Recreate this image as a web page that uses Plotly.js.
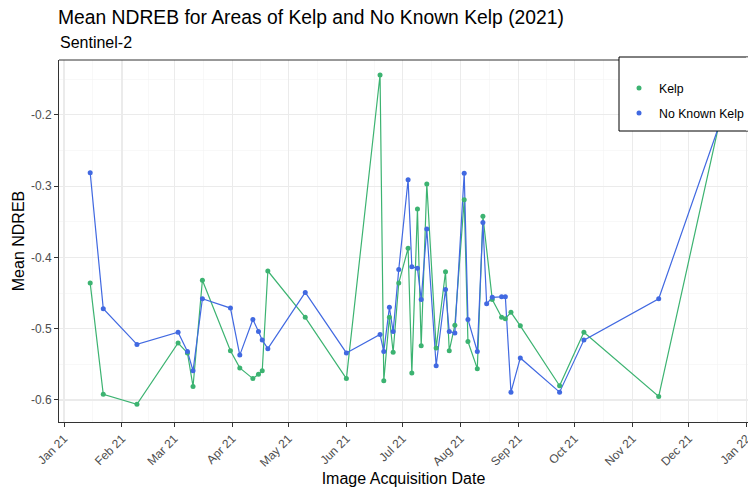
<!DOCTYPE html>
<html>
<head>
<meta charset="utf-8">
<script src="https://cdn.plot.ly/plotly-3.0.1.min.js"></script>
<style>
html,body{margin:0;padding:0;overflow:hidden;background:#fff;}
#chart{width:748px;height:487px;}
</style>
</head>
<body>
<div id="chart"></div>
<script>
// ---- data ----
const kelpDates = ["2021-01-15","2021-01-22","2021-02-09","2021-03-03","2021-03-08","2021-03-11","2021-03-16","2021-03-31","2021-04-05","2021-04-12","2021-04-15","2021-04-17","2021-04-20","2021-05-10","2021-06-01","2021-06-19","2021-06-21","2021-06-24","2021-06-26","2021-06-29","2021-07-04","2021-07-06","2021-07-09","2021-07-11","2021-07-14","2021-07-19","2021-07-24","2021-07-26","2021-07-29","2021-08-03","2021-08-05","2021-08-10","2021-08-13","2021-08-18","2021-08-23","2021-08-25","2021-08-28","2021-09-02","2021-09-23","2021-10-06","2021-11-15","2021-12-17"];
const kelpValues = [-0.436,-0.592,-0.606,-0.520,-0.534,-0.581,-0.432,-0.531,-0.555,-0.570,-0.564,-0.559,-0.419,-0.484,-0.570,-0.144,-0.573,-0.484,-0.533,-0.436,-0.387,-0.562,-0.332,-0.524,-0.297,-0.527,-0.420,-0.531,-0.495,-0.319,-0.518,-0.556,-0.342,-0.459,-0.484,-0.486,-0.477,-0.496,-0.580,-0.505,-0.595,-0.216];

const noKelpDates = ["2021-01-15","2021-01-22","2021-02-09","2021-03-03","2021-03-08","2021-03-11","2021-03-16","2021-03-31","2021-04-05","2021-04-12","2021-04-15","2021-04-17","2021-04-20","2021-05-10","2021-06-01","2021-06-19","2021-06-21","2021-06-24","2021-06-26","2021-06-29","2021-07-04","2021-07-06","2021-07-09","2021-07-11","2021-07-14","2021-07-19","2021-07-24","2021-07-26","2021-07-29","2021-08-03","2021-08-05","2021-08-10","2021-08-13","2021-08-15","2021-08-18","2021-08-23","2021-08-25","2021-08-28","2021-09-02","2021-09-23","2021-10-06","2021-11-15","2021-12-17"];
const noKelpValues = [-0.281,-0.472,-0.522,-0.505,-0.532,-0.559,-0.458,-0.471,-0.537,-0.487,-0.504,-0.516,-0.528,-0.449,-0.534,-0.508,-0.532,-0.470,-0.504,-0.417,-0.291,-0.413,-0.415,-0.459,-0.360,-0.552,-0.445,-0.504,-0.506,-0.282,-0.487,-0.532,-0.351,-0.465,-0.456,-0.455,-0.455,-0.589,-0.541,-0.589,-0.516,-0.458,-0.217];

const seriesNames = ["Kelp","No Known Kelp"];
const monthTicks = ["2021-01-01","2021-02-01","2021-03-01","2021-04-01","2021-05-01","2021-06-01","2021-07-01","2021-08-01","2021-09-01","2021-10-01","2021-11-01","2021-12-01","2022-01-01"];
const yTickVals = [-0.6,-0.5,-0.4,-0.3,-0.2];
const yTickText = ["-0.6","-0.5","-0.4","-0.3","-0.2"];
const titleText = "Mean NDREB for Areas of Kelp and No Known Kelp (2021)";
const subtitleText = "Sentinel-2";

// ---- styling ----
const GREEN = "#3cb371";
const BLUE = "#4169e1";
const FONT = "Liberation Sans, Arial, Helvetica, sans-serif";
const W = 748, H = 487;
const PLOT_L = 59, PLOT_T = 60, PLOT_W = 689, PLOT_H = 362;

// minor x grid at midpoints between month ticks
const monthMs = monthTicks.map(d => new Date(d + "T00:00:00Z").getTime());
const minorX = [];
for (let i = 0; i < monthMs.length - 1; i++) {
  minorX.push(new Date((monthMs[i] + monthMs[i+1]) / 2).toISOString());
}

const lineW = 1.2, mSize = 5;
const traces = [
  {x: kelpDates, y: kelpValues, mode: "lines", line: {color: GREEN, width: lineW}, showlegend: false, hoverinfo: "skip"},
  {x: noKelpDates, y: noKelpValues, mode: "lines", line: {color: BLUE, width: lineW}, showlegend: false, hoverinfo: "skip"},
  {x: kelpDates, y: kelpValues, mode: "markers", name: seriesNames[0], legendgroup: "a", marker: {color: GREEN, size: mSize}},
  {x: noKelpDates, y: noKelpValues, mode: "markers", name: seriesNames[1], legendgroup: "b", marker: {color: BLUE, size: mSize}}
];

// legend box (pixel geometry converted to paper coords); its right side runs off the picture
const boxL = 619, boxT = 57, boxB = 131;
const bx0 = (boxL - PLOT_L) / PLOT_W, bx1 = 1.0;
const by0 = 1 - (boxB - PLOT_T) / PLOT_H, by1 = 1 + (PLOT_T - boxT) / PLOT_H;
const frame = {color: "#000000", width: 1};

const layout = {
  width: W, height: H,
  margin: {l: PLOT_L, r: W - PLOT_L - PLOT_W, t: PLOT_T, b: H - PLOT_T - PLOT_H, autoexpand: false},
  paper_bgcolor: "#ffffff", plot_bgcolor: "#ffffff",
  font: {family: FONT, color: "#000"},
  title: {
    text: titleText,
    font: {size: 19.3, color: "#000", family: FONT},
    x: 58/W, xanchor: "left", xref: "container",
    y: 1 - 10/H, yanchor: "top", yref: "container"
  },
  annotations: [{
    text: subtitleText, showarrow: false,
    xref: "paper", yref: "paper",
    x: -1/PLOT_W, xanchor: "left",
    y: 1 + 18/PLOT_H, yanchor: "middle",
    font: {size: 16, color: "#000", family: FONT}
  }],
  shapes: [
    // top panel border
    {type: "line", xref: "paper", yref: "paper", layer: "above",
     x0: 0, x1: 1, y0: 1, y1: 1, line: {color: "#333333", width: 1}},
    // legend background
    {type: "rect", xref: "paper", yref: "paper", layer: "above",
     x0: bx0, x1: bx1, y0: by0, y1: by1, fillcolor: "#ffffff", line: {color: "rgba(0,0,0,0)", width: 0}},
    // legend frame: top, left, bottom (right side is off the picture)
    {type: "line", xref: "paper", yref: "paper", layer: "above", x0: bx0, x1: bx1, y0: by1, y1: by1, line: frame},
    {type: "line", xref: "paper", yref: "paper", layer: "above", x0: bx0, x1: bx0, y0: by0, y1: by1, line: frame},
    {type: "line", xref: "paper", yref: "paper", layer: "above", x0: bx0, x1: bx1, y0: by0, y1: by0, line: frame},
    // white strip over the picture's right edge inside the legend box
    {type: "line", xref: "paper", yref: "paper", layer: "above",
     x0: 1.0, x1: 1.0, y0: by0 + 0.6 / PLOT_H, y1: by1 - 0.6 / PLOT_H, line: {color: "#ffffff", width: 4}}
  ],
  xaxis: {
    type: "date",
    range: ["2020-12-29 07:50", "2022-01-01 18:00"],
    tickvals: monthTicks, tickformat: "%b %y",
    tickangle: -45,
    ticklabeloverflow: "allow",
    tickfont: {size: 12, color: "#4d4d4d"},
    ticks: "outside", ticklen: 4, tickcolor: "#333333", tickwidth: 1,
    showgrid: true, gridcolor: "#ebebeb", gridwidth: 1.1,
    minor: {tickmode: "array", tickvals: minorX, showgrid: true, gridcolor: "#f3f3f3", gridwidth: 0.6, ticks: ""},
    showline: true, linecolor: "#333333", linewidth: 1, mirror: false,
    zeroline: false,
    title: {text: "Image Acquisition Date", font: {size: 16, color: "#000"}, standoff: 5},
    automargin: false
  },
  yaxis: {
    range: [-0.6309, -0.1229],
    tickvals: yTickVals, ticktext: yTickText,
    tickfont: {size: 12, color: "#4d4d4d"},
    ticks: "outside", ticklen: 4, tickcolor: "#333333", tickwidth: 1,
    showgrid: true, gridcolor: "#ebebeb", gridwidth: 1.1,
    minor: {dtick: 0.05, tick0: -0.65, showgrid: true, gridcolor: "#f3f3f3", gridwidth: 0.6, ticks: ""},
    showline: true, linecolor: "#333333", linewidth: 1, mirror: false,
    zeroline: false,
    title: {text: "Mean NDREB", font: {size: 16, color: "#000"}, standoff: 2},
    automargin: false
  },
  legend: {
    x: bx0, xanchor: "left",
    y: 1 + 2 / PLOT_H, yanchor: "top",
    bgcolor: "rgba(0,0,0,0)", borderwidth: 0, bordercolor: "rgba(0,0,0,0)",
    font: {size: 12.3, color: "#000"},
    traceorder: "grouped", tracegroupgap: 6,
    title: {text: " ", font: {size: 12}}
  },
  showlegend: true
};

Plotly.newPlot("chart", traces, layout, {displayModeBar: false, staticPlot: true});
</script>
</body>
</html>
